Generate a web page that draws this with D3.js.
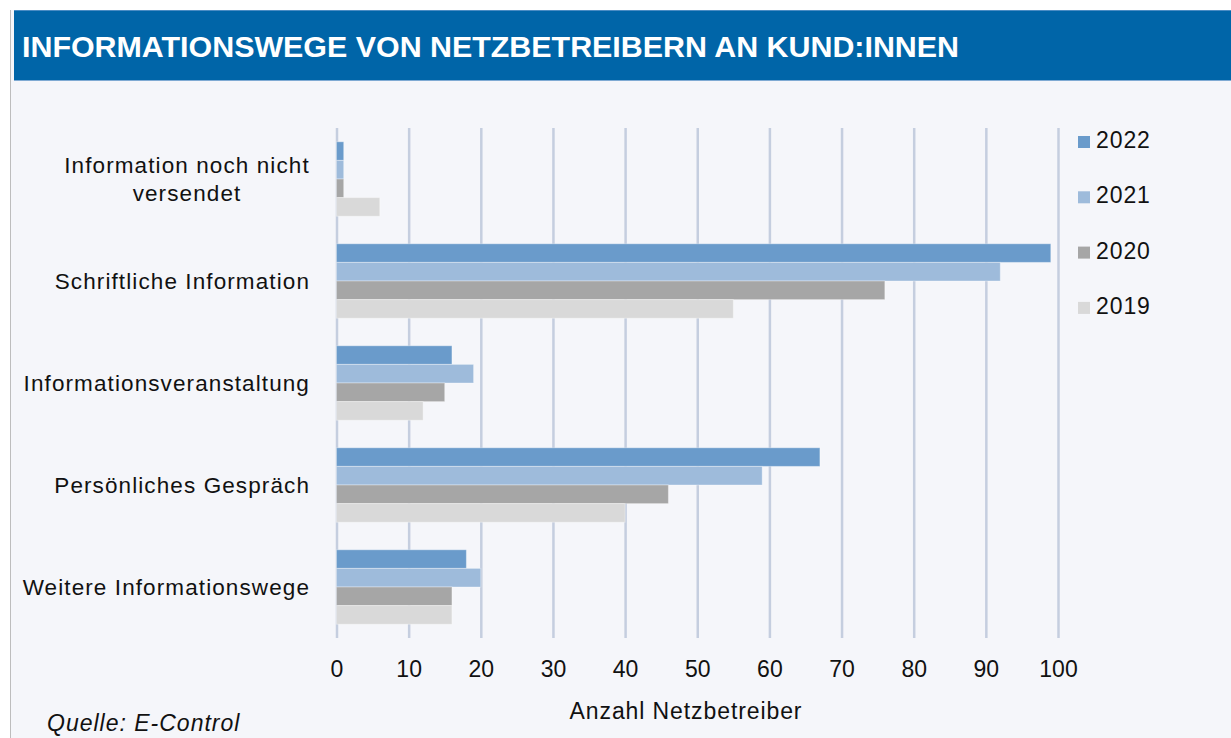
<!DOCTYPE html>
<html><head><meta charset="utf-8">
<script src="https://cdn.jsdelivr.net/npm/d3@7"></script>
<style>
html,body{margin:0;padding:0;background:#fff;}
svg{display:block;font-family:"Liberation Sans",Arial,sans-serif;}
</style></head>
<body>
<svg id="chart" width="1231" height="738"></svg>
<script>
const categories = ["Information noch nicht versendet","Schriftliche Information","Informationsveranstaltung","Persönliches Gespräch","Weitere Informationswege"];
const categoryLines = [["Information noch nicht","versendet"],["Schriftliche Information"],["Informationsveranstaltung"],["Persönliches Gespräch"],["Weitere Informationswege"]];
const years = ["2022","2021","2020","2019"];
const values2022 = [1, 99, 16, 67, 18];
const values2021 = [1, 92, 19, 59, 20];
const values2020 = [1, 76, 15, 46, 16];
const values2019 = [6, 55, 12, 40, 16];
const xTicks = [0,10,20,30,40,50,60,70,80,90,100];
const colors = ["#6A9BCB","#9EBBDB","#A6A6A6","#D9D9D9"];
const seriesValues = [values2022, values2021, values2020, values2019];

const svg = d3.select("#chart");
// background
svg.append("rect").attr("x",11).attr("y",10).attr("width",1220).attr("height",728).attr("fill","#F5F6FA");
svg.append("line").attr("x1",10.5).attr("x2",10.5).attr("y1",10).attr("y2",738).attr("stroke","#BDBDBD").attr("stroke-width",1);
// title bar
svg.append("rect").attr("x",14).attr("y",10).attr("width",1217).attr("height",70).attr("fill","#0065A8");
svg.append("line").attr("x1",14).attr("x2",1231).attr("y1",10.5).attr("y2",10.5).attr("stroke","#4A8CC4");
svg.append("line").attr("x1",14).attr("x2",1231).attr("y1",80.5).attr("y2",80.5).attr("stroke","#7FAAD3");
svg.append("text").attr("x",22).attr("y",57).attr("fill","#fff").attr("font-weight","bold").attr("font-size","30.4px")
  .text("INFORMATIONSWEGE VON NETZBETREIBERN AN KUND:INNEN");

const x = d3.scaleLinear().domain([0,100]).range([336.5,1058]);
const y = d3.scaleBand().domain(categories).range([128,638]).paddingInner(0.27).paddingOuter(0.135);
const ySub = d3.scaleBand().domain(years).range([0,y.bandwidth()]);

// gridlines via axis
const gAxis = svg.append("g").attr("transform","translate(0,638)")
  .call(d3.axisBottom(x).tickValues(xTicks).tickSize(510).tickFormat(d=>d));
gAxis.select(".domain").remove();
gAxis.selectAll(".tick line").attr("y1",-510).attr("y2",0).attr("stroke","#C5CEDF").attr("stroke-width",2.5);
gAxis.selectAll(".tick text").attr("y",0).attr("dy",null).attr("transform","translate(0,39)")
  .attr("font-size","23px").attr("fill","#111").attr("font-family","Liberation Sans, Arial, sans-serif");

// bars
const groups = svg.append("g").selectAll("g").data(categories).join("g")
  .attr("transform", c => `translate(0,${y(c)})`);
groups.selectAll("rect").data((c,i)=> years.map((yr,j)=>({yr, v: seriesValues[j][i], j})))
  .join("rect")
  .attr("x", x(0))
  .attr("y", d => ySub(d.yr))
  .attr("width", d => x(d.v)-x(0))
  .attr("height", ySub.bandwidth())
  .attr("fill", d => colors[d.j])
  .attr("stroke", "rgba(255,255,255,0.35)").attr("stroke-width",1);

// category labels
categories.forEach((c,i)=>{
  const lines = categoryLines[i];
  const cy = y(c) + y.bandwidth()/2;
  const t = svg.append("text").attr("font-size","22.5px").attr("letter-spacing","1.1px").attr("fill","#111");
  if(lines.length>1){
    t.attr("text-anchor","middle");
    lines.forEach((l,k)=>{
      t.append("tspan").attr("x",187).attr("y", 172 + k*28 + (cy - 178.5)).text(l);
    });
  } else {
    t.attr("text-anchor","end").attr("x",310).attr("y",cy+8).text(lines[0]);
  }
});

// axis title
svg.append("text").attr("x",686).attr("y",719).attr("text-anchor","middle").attr("font-size","23px").attr("letter-spacing","0.9px").attr("fill","#111").text("Anzahl Netzbetreiber");

// legend
years.forEach((yr,j)=>{
  const base = 148 + j*55.3;
  svg.append("rect").attr("x",1078).attr("y",base-12).attr("width",12).attr("height",12).attr("fill",colors[j]);
  svg.append("text").attr("x",1096).attr("y",base).attr("font-size","23px").attr("letter-spacing","0.9px").attr("fill","#111").text(yr);
});

// source
svg.append("text").attr("x",47).attr("y",731).attr("font-size","23px").attr("letter-spacing","1px").attr("font-style","italic").attr("fill","#111").text("Quelle: E-Control");
</script>
</body></html>
